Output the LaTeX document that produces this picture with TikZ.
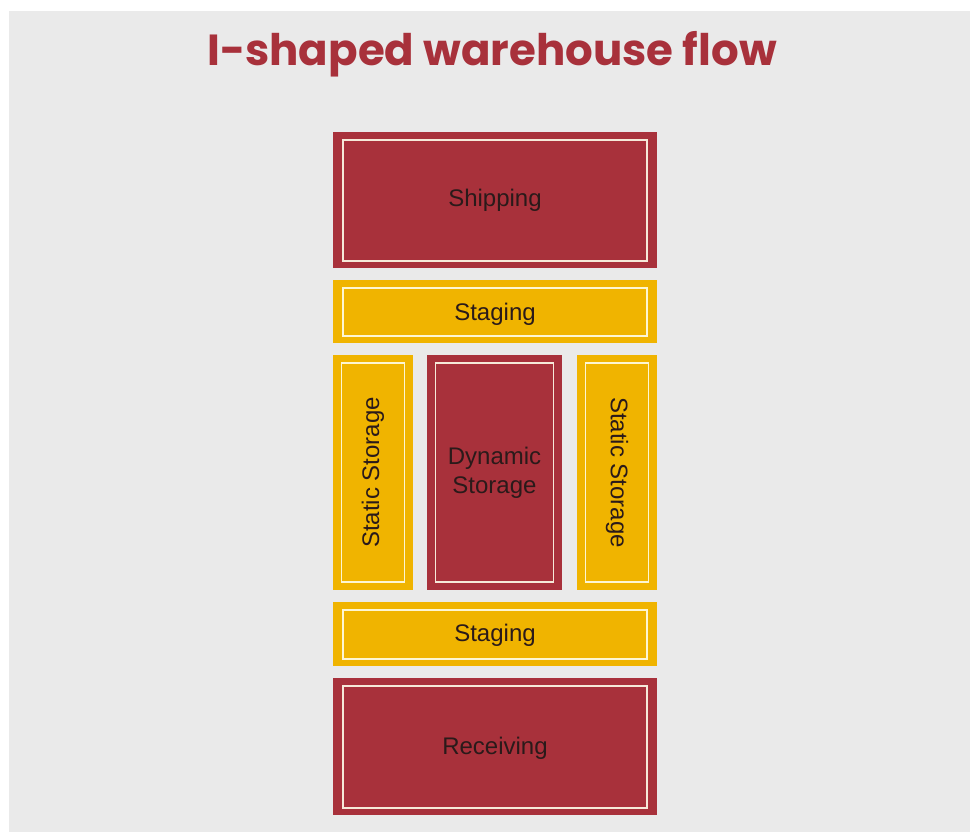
\documentclass[tikz,border=0pt]{standalone}
\usepackage{fontspec}
\setmainfont{Liberation Sans}
\newfontfamily\titlefont{Poppins}
\definecolor{bggray}{HTML}{EAEAEA}
\definecolor{wred}{HTML}{A8313B}
\definecolor{wyellow}{HTML}{F0B400}
\definecolor{txtdark}{HTML}{2A1A1A}
\newcommand{\lowertext}[2]{\raisebox{-#1}[\height][\depth]{#2}}
\tikzset{
  zone/.style={draw=none, inner sep=0pt, outer sep=0pt, text=txtdark,
    font=\fontsize{24}{29}\selectfont, align=center},
  redzone/.style={zone, fill=wred},
  yellowzone/.style={zone, fill=wyellow},
  innerline/.style={draw=white!92!yellow, line width=1.4pt, opacity=0.9},
}
\begin{document}
\begin{tikzpicture}[x=1pt,y=-1pt]
\useasboundingbox (0,0) rectangle (970,832);
\fill[white] (0,0) rectangle (970,832);
\fill[bggray] (9,11) rectangle (970,832);
\node[text=wred, font=\titlefont\bfseries\fontsize{43.5}{48}\selectfont] (title) at (492,54) {I-shaped warehouse flow};
% boxes
\node[redzone, minimum width=324pt, minimum height=136pt] (ship) at (495,200) {Shipping};
\node[yellowzone, minimum width=324pt, minimum height=63pt] (stag1) at (495,311.5) {\lowertext{2.5pt}{Staging}};
\node[yellowzone, minimum width=80pt, minimum height=235pt] (statl) at (373,472.5) {\rotatebox{90}{Static Storage}};
\node[redzone, minimum width=135pt, minimum height=235pt] (dyn) at (494.5,472.5) {Dynamic\\Storage};
\node[yellowzone, minimum width=80pt, minimum height=235pt] (statr) at (617,472.5) {\rotatebox{-90}{Static Storage}};
\node[yellowzone, minimum width=324pt, minimum height=64pt] (stag2) at (495,634) {\lowertext{1pt}{Staging}};
\node[redzone, minimum width=324pt, minimum height=137pt] (recv) at (495,746.5) {\lowertext{2pt}{Receiving}};
% inner lines
\foreach \b in {ship,stag1,stag2,recv}{
  \draw[innerline] ([xshift=10pt,yshift=-8pt]\b.north west) rectangle ([xshift=-10pt,yshift=7pt]\b.south east);
}
\foreach \b in {statl,dyn,statr}{
  \draw[innerline] ([xshift=8.5pt,yshift=-8pt]\b.north west) rectangle ([xshift=-8.5pt,yshift=8pt]\b.south east);
}
\end{tikzpicture}
\end{document}
